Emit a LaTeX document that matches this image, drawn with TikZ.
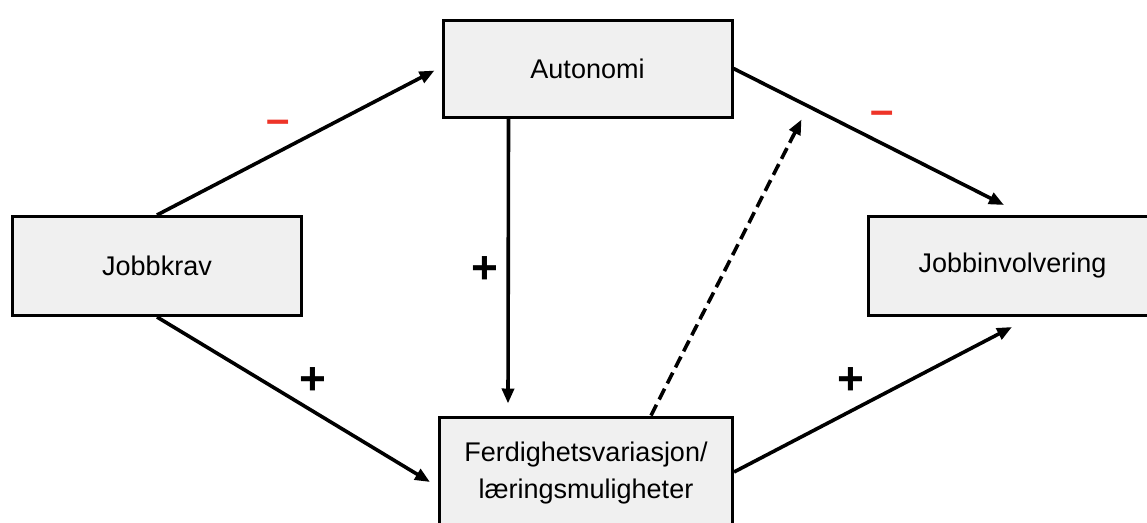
\documentclass[tikz,border=0pt]{standalone}
\usepackage{fontspec}
\setmainfont{Liberation Sans}
\usetikzlibrary{arrows.meta,calc}
\definecolor{boxfill}{RGB}{240,240,240}
\definecolor{signred}{RGB}{238,52,40}
\tikzset{
  block/.style={draw=black, line width=3pt, fill=boxfill, inner sep=0pt,
    font=\fontsize{27}{37}\selectfont, align=center},
  link/.style={line width=3.6pt, -{Triangle[length=15pt,width=12pt]}},
  dashedlink/.style={link, dash pattern=on 12pt off 6pt},
  plussign/.style={font=\bfseries\fontsize{46}{46}\selectfont, inner sep=0pt},
  minussign/.style={font=\bfseries\fontsize{42}{42}\selectfont, text=signred, inner sep=0pt}
}
\begin{document}
\begin{tikzpicture}[x=1pt,y=-1pt]
  \useasboundingbox (0,0) rectangle (1147,522);
  \clip (0,0) rectangle (1147,522);

  % boxes
  \node[block, minimum width=289pt, minimum height=97pt] (au) at (587.5,68.5) {Autonomi};
  \node[block, minimum width=289pt, minimum height=99pt] (jk) at (157,266) {Jobbkrav};
  \node[block, minimum width=288pt, minimum height=99pt] (ji) at (1012.5,266) {Jobbinvolvering};
  \node[block, minimum width=293pt, minimum height=112pt] (fv) at (586,473) {Ferdighetsvariasjon/\\læringsmuligheter};

  % connectors
  \draw[link] (jk.north) -- ($(au.west)+(-7,2)$);
  \draw[link] (jk.south) -- ($(fv.west)+(-8,9)$);
  \draw[link] ($(au.south west)+(67,0)$) -- ($(fv.north west)+(70,-12)$);
  \draw[link] (au.east) -- ($(ji.north west)+(137,-10)$);
  \draw[dashedlink] ($(fv.north west)+(213,0)$) -- ($(au.south east)+(68,1)$);
  \draw[link] ($(fv.east)+(0,-1)$) -- ($(ji.south west)+(145,10)$);

  % signs
  \node[minussign] (m1) at (278,127) {–};
  \node[minussign] (m2) at (882,118) {–};
  \node[plussign] (p1) at (485,270) {+};
  \node[plussign] (p2) at (313,381) {+};
  \node[plussign] (p3) at (851,381) {+};
\end{tikzpicture}
\end{document}
